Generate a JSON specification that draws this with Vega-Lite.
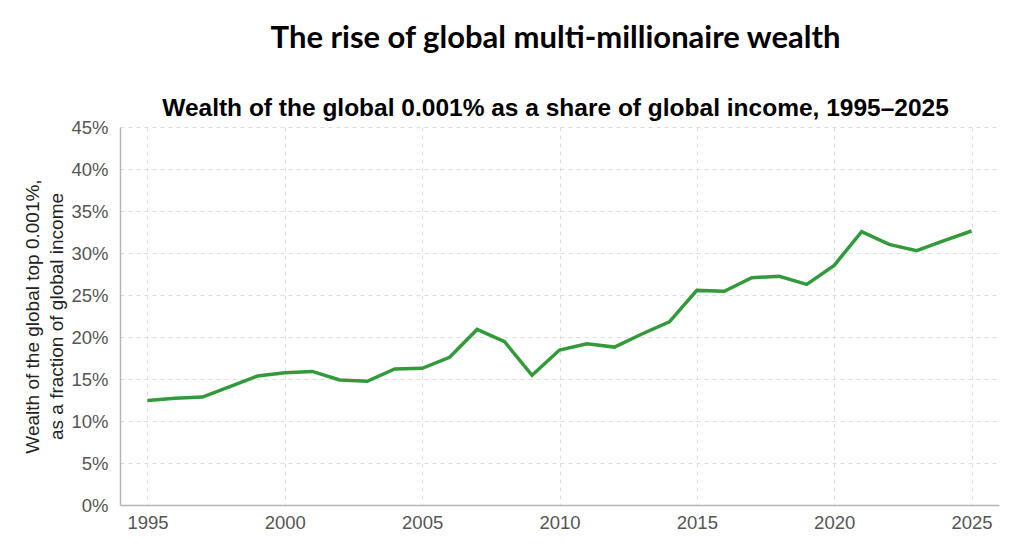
{
  "$schema": "https://vega.github.io/schema/vega-lite/v6.json",
  "autosize": "none",
  "width": 879,
  "height": 378,
  "padding": {"left": 120, "top": 127, "right": 25, "bottom": 45},
  "background": "white",
  "title": {
    "text": "The rise of global multi-millionaire wealth",
    "subtitle": "Wealth of the global 0.001% as a share of global income, 1995–2025",
    "anchor": "middle",
    "font": "Lato",
    "fontSize": 31,
    "fontWeight": "bold",
    "color": "black",
    "dx": -4,
    "subtitleFont": "Liberation Sans",
    "subtitleFontSize": 24.5,
    "subtitleFontWeight": "bold",
    "subtitleColor": "black",
    "subtitlePadding": 42,
    "offset": -3
  },
  "data": {
    "values": [
      {"year": 1995, "share": 12.45},
      {"year": 1996, "share": 12.7},
      {"year": 1997, "share": 12.85},
      {"year": 1998, "share": 14.1},
      {"year": 1999, "share": 15.35},
      {"year": 2000, "share": 15.75},
      {"year": 2001, "share": 15.9},
      {"year": 2002, "share": 14.88},
      {"year": 2003, "share": 14.72},
      {"year": 2004, "share": 16.2},
      {"year": 2005, "share": 16.27},
      {"year": 2006, "share": 17.58},
      {"year": 2007, "share": 20.9},
      {"year": 2008, "share": 19.44},
      {"year": 2009, "share": 15.44},
      {"year": 2010, "share": 18.45},
      {"year": 2011, "share": 19.2},
      {"year": 2012, "share": 18.8},
      {"year": 2013, "share": 20.36},
      {"year": 2014, "share": 21.8},
      {"year": 2015, "share": 25.55},
      {"year": 2016, "share": 25.44},
      {"year": 2017, "share": 27.06},
      {"year": 2018, "share": 27.22},
      {"year": 2019, "share": 26.27},
      {"year": 2020, "share": 28.53},
      {"year": 2021, "share": 32.55},
      {"year": 2022, "share": 31.03},
      {"year": 2023, "share": 30.28},
      {"year": 2024, "share": 31.47},
      {"year": 2025, "share": 32.62}
    ]
  },
  "mark": {"type": "line", "color": "#329a3b", "strokeWidth": 3.5, "strokeJoin": "miter"},
  "encoding": {
    "x": {
      "field": "year",
      "type": "quantitative",
      "scale": {"domain": [1994, 2026], "nice": false, "zero": false},
      "axis": {
        "title": null,
        "values": [1995, 2000, 2005, 2010, 2015, 2020, 2025],
        "format": "d",
        "labelFont": "Liberation Sans",
        "labelFontSize": 18.5,
        "labelColor": "#555555",
        "labelPadding": 8,
        "ticks": false,
        "domainColor": "#b5b5b5",
        "domainWidth": 1.5,
        "gridColor": "#dddddd",
        "gridDash": [4, 4],
        "labelFlush": false
      }
    },
    "y": {
      "field": "share",
      "type": "quantitative",
      "scale": {"domain": [0, 45], "nice": false},
      "axis": {
        "title": ["Wealth of the global top 0.001%,", "as a fraction of global income"],
        "titleFont": "Liberation Sans",
        "titleFontSize": 19,
        "titleFontWeight": "normal",
        "titleColor": "#222222",
        "titlePadding": 4,
        "titleLineHeight": 24,
        "values": [0, 5, 10, 15, 20, 25, 30, 35, 40, 45],
        "labelExpr": "datum.value + '%'",
        "labelFont": "Liberation Sans",
        "labelFontSize": 18.5,
        "labelColor": "#555555",
        "labelPadding": 12,
        "ticks": false,
        "domainColor": "#b5b5b5",
        "domainWidth": 1.5,
        "gridColor": "#dddddd",
        "gridDash": [4, 4]
      }
    }
  },
  "config": {"view": {"stroke": null}}
}
